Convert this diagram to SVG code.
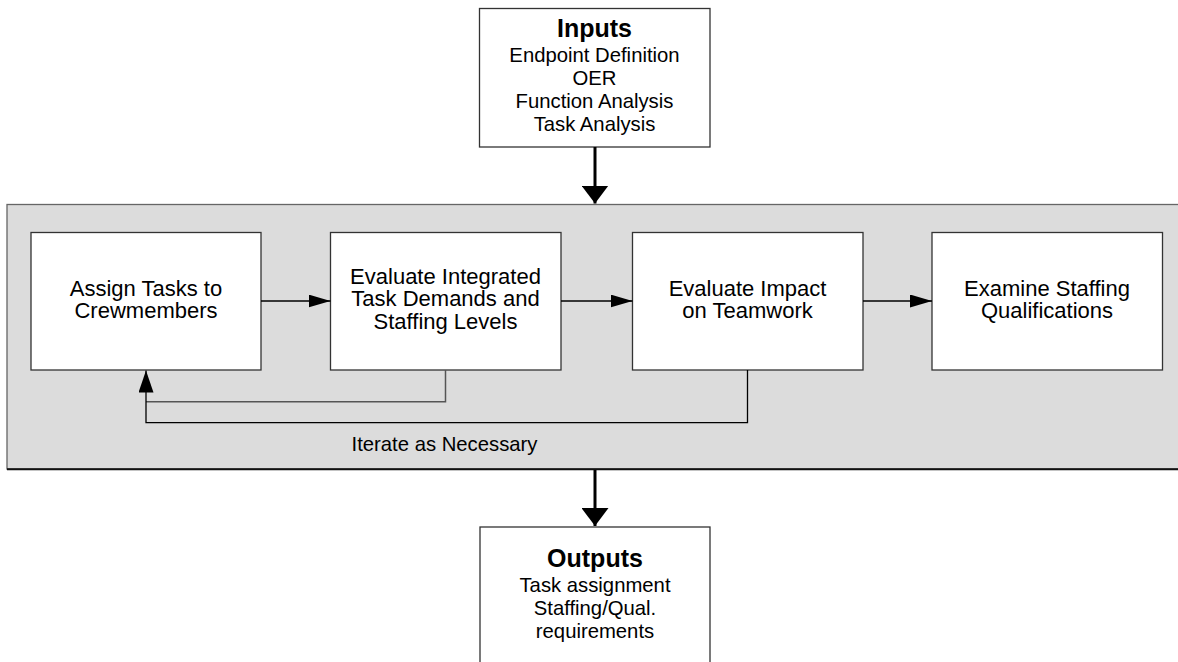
<svg xmlns="http://www.w3.org/2000/svg" width="1178" height="662" viewBox="0 0 1178 662">
  <defs>
    <marker id="headBig" viewBox="0 0 18 27" refX="18" refY="13.5" markerWidth="18" markerHeight="27" markerUnits="userSpaceOnUse" orient="auto">
      <path d="M0,0 L18,13.5 L0,27 Z" fill="#000"/>
    </marker>
    <marker id="head" viewBox="0 0 22 13" refX="22" refY="6.5" markerWidth="22" markerHeight="13" markerUnits="userSpaceOnUse" orient="auto">
      <path d="M0,0 L22,6.5 L0,13 Z" fill="#000"/>
    </marker>
    <marker id="headFb" viewBox="0 0 22 15" refX="22" refY="7.5" markerWidth="22" markerHeight="15" markerUnits="userSpaceOnUse" orient="auto">
      <path d="M0,0 L22,7.5 L0,15 Z" fill="#000"/>
    </marker>
  </defs>
  <style>
    text { font-family: "Liberation Sans", Arial, sans-serif; fill: #000; text-anchor: middle; }
    .box { fill: #fff; stroke: #333; stroke-width: 1.3; }
    .step { font-size: 22px; }
    .small { font-size: 20.3px; }
    .title { font-size: 25px; font-weight: bold; }
    .flow { fill: none; stroke: #000; stroke-width: 1.3; }
    .bigflow { fill: none; stroke: #000; stroke-width: 3; }
  </style>

  <!-- shaded process area -->
  <g id="process-panel">
    <rect x="7" y="204.5" width="1180" height="264.5" fill="#dcdcdc" stroke="#666" stroke-width="1.3"/>
    <line x1="7" y1="469.3" x2="1178" y2="469.3" stroke="#111" stroke-width="2"/>
    <text class="small" x="444.5" y="450.7">Iterate as Necessary</text>
  </g>

  <g id="inputs">
    <rect class="box" x="479.5" y="8.5" width="230.5" height="138.5"/>
    <text class="title" x="594.5" y="36.5">Inputs</text>
    <text class="small" x="594.5" y="62">Endpoint Definition</text>
    <text class="small" x="594.5" y="85">OER</text>
    <text class="small" x="594.5" y="108">Function Analysis</text>
    <text class="small" x="594.5" y="131">Task Analysis</text>
  </g>

  <g id="assign-tasks">
    <rect class="box" x="31" y="232.5" width="230" height="137.5"/>
    <text class="step" x="146" y="296">Assign Tasks to</text>
    <text class="step" x="146" y="318">Crewmembers</text>
  </g>

  <g id="evaluate-demands">
    <rect class="box" x="330.5" y="232.5" width="230.5" height="137.5"/>
    <text class="step" x="445.5" y="283.5">Evaluate Integrated</text>
    <text class="step" x="445.5" y="306">Task Demands and</text>
    <text class="step" x="445.5" y="328.5">Staffing Levels</text>
  </g>

  <g id="evaluate-teamwork">
    <rect class="box" x="632.5" y="232.5" width="230.5" height="137.5"/>
    <text class="step" x="747.5" y="296">Evaluate Impact</text>
    <text class="step" x="747.5" y="318">on Teamwork</text>
  </g>

  <g id="staffing-qualifications">
    <rect class="box" x="932" y="232.5" width="230.5" height="137.5"/>
    <text class="step" x="1047" y="296">Examine Staffing</text>
    <text class="step" x="1047" y="318">Qualifications</text>
  </g>

  <g id="outputs">
    <rect class="box" x="480" y="527" width="230" height="140"/>
    <text class="title" x="595" y="567">Outputs</text>
    <text class="small" x="595" y="591.5">Task assignment</text>
    <text class="small" x="595" y="614.5">Staffing/Qual.</text>
    <text class="small" x="595" y="637.5">requirements</text>
  </g>

  <g id="connectors">
    <!-- main flow in and out of the process area -->
    <line class="bigflow" x1="595" y1="147" x2="595" y2="203.5" marker-end="url(#headBig)"/>
    <line class="bigflow" x1="595" y1="470" x2="595" y2="526" marker-end="url(#headBig)"/>
    <!-- step to step -->
    <line class="flow" x1="261" y1="301" x2="330.5" y2="301" marker-end="url(#head)"/>
    <line class="flow" x1="561" y1="301" x2="632.5" y2="301" marker-end="url(#head)"/>
    <line class="flow" x1="863" y1="301" x2="932" y2="301" marker-end="url(#head)"/>
    <!-- iteration loops back to task assignment -->
    <polyline points="445.5,370 445.5,401.7 146,401.7" fill="none" stroke="#555" stroke-width="1.5"/>
    <polyline class="flow" points="747.5,370 747.5,422.7 146,422.7 146,370.5" marker-end="url(#headFb)"/>
  </g>
</svg>
